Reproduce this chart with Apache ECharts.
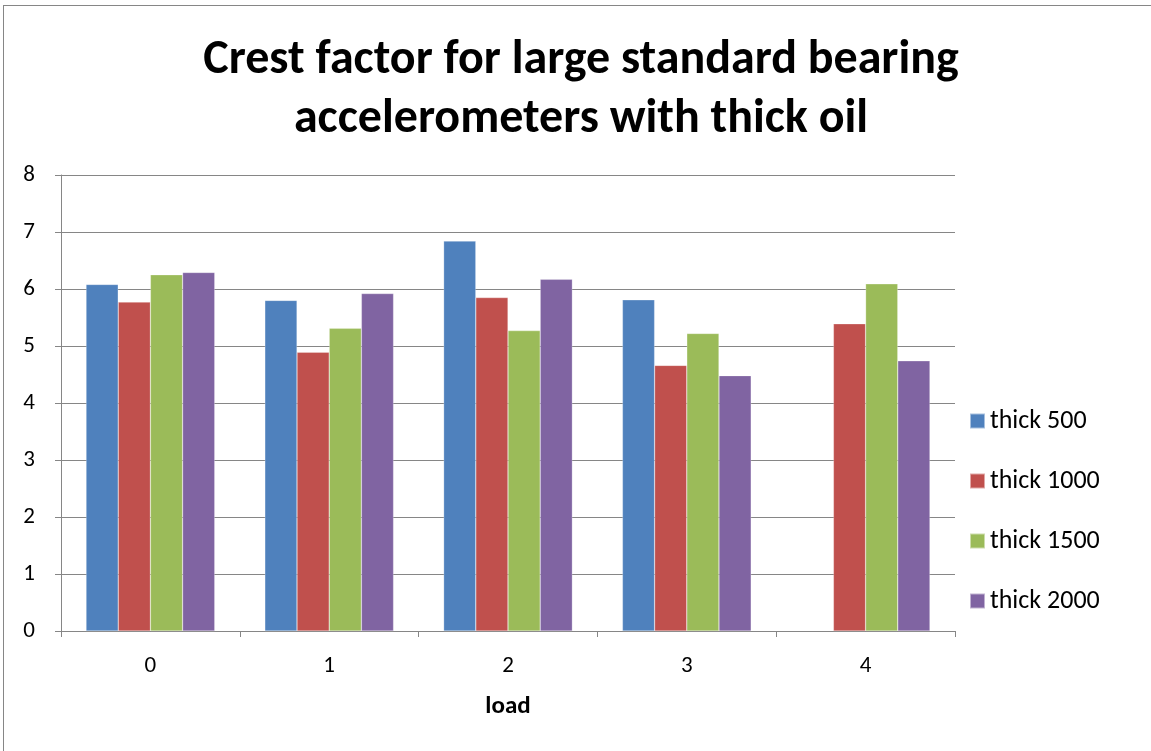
<!DOCTYPE html>
<html>
<head>
<meta charset="utf-8">
<script src="https://cdn.jsdelivr.net/npm/echarts@6/dist/echarts.min.js"></script>
<style>
  html, body { margin: 0; padding: 0; background: #fff; }
  #frame { position: absolute; left: 3px; top: 5px; width: 1160px; height: 760px; border: 1px solid #868686; box-sizing: border-box; }
  #chart { position: absolute; left: 0; top: 0; width: 1151px; height: 751px; }
</style>
</head>
<body>
<div id="frame"></div>
<div id="chart"></div>
<script>
// Loads on the x axis
const loads = ['0', '1', '2', '3', '4'];
// Crest factor per oil thickness
const thick500  = [6.08, 5.80, 6.84, 5.81, null];
const thick1000 = [5.77, 4.89, 5.85, 4.66, 5.39];
const thick1500 = [6.25, 5.31, 5.27, 5.22, 6.09];
const thick2000 = [6.29, 5.92, 6.17, 4.48, 4.74];
const seriesNames = ['thick 500', 'thick 1000', 'thick 1500', 'thick 2000'];
const seriesColors = ['#4f81bd', '#c0504d', '#9bbb59', '#8064a2'];
const yTicks = { min: 0, max: 8, interval: 1 };

const font = 'Calibri, Carlito, "Open Sans", sans-serif';
const chart = echarts.init(document.getElementById('chart'), null, { renderer: 'canvas' });

const data = [thick500, thick1000, thick1500, thick2000];
chart.setOption({
  animation: false,
  backgroundColor: 'transparent',
  title: {
    text: 'Crest factor for large standard bearing\naccelerometers with thick oil',
    left: 581, top: 31, textAlign: 'center', padding: 0,
    textStyle: { fontFamily: font, fontWeight: 'bold', fontSize: 48, lineHeight: 59, color: '#000' }
  },
  legend: {
    orient: 'vertical', left: 969, top: 408, padding: 0,
    itemWidth: 15, itemHeight: 15, itemGap: 34,
    icon: 'rect',
    textStyle: { fontFamily: font, fontSize: 26, color: '#000', padding: [0, 0, 0, 0] },
    data: seriesNames
  },
  grid: { left: 61, top: 175, width: 894, height: 456 },
  xAxis: {
    type: 'category', data: loads,
    name: 'load', nameLocation: 'middle', nameGap: 63,
    nameTextStyle: { fontFamily: font, fontWeight: 'bold', fontSize: 25, color: '#000' },
    axisLine: { lineStyle: { color: '#868686', width: 1 } },
    axisTick: { show: true, length: 6, alignWithLabel: false, lineStyle: { color: '#868686' } },
    axisLabel: { fontFamily: font, fontSize: 23, color: '#000', margin: 24 }
  },
  yAxis: {
    type: 'value', min: yTicks.min, max: yTicks.max, interval: yTicks.interval,
    axisLine: { show: true, lineStyle: { color: '#868686', width: 1 } },
    axisTick: { show: true, length: 6, lineStyle: { color: '#868686' } },
    axisLabel: { fontFamily: font, fontSize: 23, color: '#000', margin: 26 },
    splitLine: { lineStyle: { color: '#868686', width: 1 } }
  },
  series: data.map((d, i) => ({
    name: seriesNames[i], type: 'bar', data: d,
    barGap: '0%', barCategoryGap: '28%',
    itemStyle: { color: seriesColors[i], borderColor: 'rgba(255,255,255,0.5)', borderWidth: 0.5 }
  }))
});
</script>
</body>
</html>
